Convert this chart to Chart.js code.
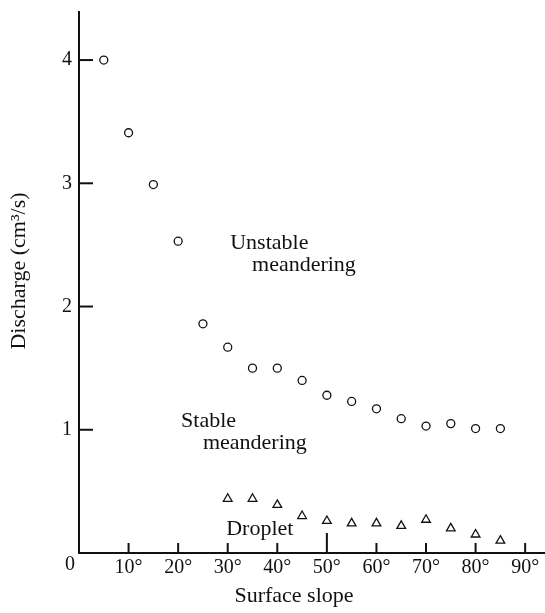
<!DOCTYPE html>
<html>
<head>
<meta charset="utf-8">
<script src="https://cdn.jsdelivr.net/npm/chart.js@4/dist/chart.umd.min.js"></script>
<style>
  body { margin: 0; background: #fff; }
  canvas { display: block; }
</style>
</head>
<body>
<canvas id="slopeChart" width="545" height="613"></canvas>
<script>
// surface slope (degrees) and discharge (cm3/s)
const meanderSlope = [5, 10, 15, 20, 25, 30, 35, 40, 45, 50, 55, 60, 65, 70, 75, 80, 85];
const meanderDischarge = [4.00, 3.41, 2.99, 2.53, 1.86, 1.67, 1.50, 1.50, 1.40, 1.28, 1.23, 1.17, 1.09, 1.03, 1.05, 1.01, 1.01];
const dropletSlope = [30, 35, 40, 45, 50, 55, 60, 65, 70, 75, 80, 85];
const dropletDischarge = [0.44, 0.44, 0.39, 0.30, 0.26, 0.24, 0.24, 0.22, 0.27, 0.20, 0.15, 0.10];

const xTicks = [10, 20, 30, 40, 50, 60, 70, 80, 90];
const yTicks = [1, 2, 3, 4];

// region labels, anchored in data units (left edge, baseline)
const regionText = ["Unstable", "meandering", "Stable", "meandering", "Droplet"];
const regionX = [30.5, 34.9, 20.6, 25.0, 29.7];
const regionY = [2.47, 2.29, 1.02, 0.84, 0.15];

const serif = "'Liberation Serif', 'DejaVu Serif', serif";
const ink = "#111";

function toPoints(xs, ys) {
  return xs.map((x, i) => ({ x: x, y: ys[i] }));
}

// ticks point inward on this figure, so draw them ourselves
const inwardTicks = {
  id: "inwardTicks",
  afterDraw(chart) {
    const ctx = chart.ctx;
    const xs = chart.scales.x;
    const ys = chart.scales.y;
    ctx.save();
    ctx.strokeStyle = ink;
    ctx.lineWidth = 2;
    xTicks.forEach(v => {
      const px = xs.getPixelForValue(v);
      const len = v === 50 ? 20 : 10;
      ctx.beginPath();
      ctx.moveTo(px, ys.bottom);
      ctx.lineTo(px, ys.bottom - len);
      ctx.stroke();
    });
    yTicks.forEach(v => {
      const py = ys.getPixelForValue(v);
      ctx.beginPath();
      ctx.moveTo(xs.left, py);
      ctx.lineTo(xs.left + 14, py);
      ctx.stroke();
    });

    ctx.fillStyle = ink;
    ctx.font = "22px " + serif;
    ctx.textAlign = "left";
    ctx.textBaseline = "alphabetic";
    regionText.forEach((t, i) => {
      ctx.fillText(t, xs.getPixelForValue(regionX[i]), ys.getPixelForValue(regionY[i]));
    });

    // corner zero
    ctx.font = "20px " + serif;
    ctx.textAlign = "center";
    ctx.textBaseline = "middle";
    ctx.fillText("0", xs.left - 9, ys.bottom + 12);

    // axis titles
    ctx.font = "22px " + serif;
    ctx.textBaseline = "alphabetic";
    ctx.fillText("Surface slope", 294, 602);
    ctx.translate(25, 271);
    ctx.rotate(-Math.PI / 2);
    ctx.fillText("Discharge (cm\u00B3/s)", 0, 0);
    ctx.restore();
  }
};

const ctx = document.getElementById("slopeChart").getContext("2d");
new Chart(ctx, {
  type: "scatter",
  data: {
    datasets: [
      {
        label: "Meandering",
        data: toPoints(meanderSlope, meanderDischarge),
        pointStyle: "circle",
        pointRadius: 4,
        borderColor: ink,
        backgroundColor: "rgba(0,0,0,0)",
        borderWidth: 1.3
      },
      {
        label: "Droplet",
        data: toPoints(dropletSlope, dropletDischarge),
        pointStyle: "triangle",
        pointRadius: 5,
        borderColor: ink,
        backgroundColor: "rgba(0,0,0,0)",
        borderWidth: 1.3
      }
    ]
  },
  options: {
    responsive: false,
    animation: false,
    devicePixelRatio: 1,
    layout: { autoPadding: false, padding: { top: 12, right: 0, bottom: 0, left: 0 } },
    plugins: {
      legend: { display: false },
      tooltip: { enabled: false }
    },
    scales: {
      x: {
        type: "linear",
        min: 0,
        max: 94,
        afterFit: s => { s.height = 60; s.paddingLeft = 0; s.paddingRight = 0; },
        afterBuildTicks: s => { s.ticks = xTicks.map(v => ({ value: v })); },
        grid: { display: false, drawTicks: false },
        border: { display: true, color: ink, width: 2 },
        ticks: {
          color: ink,
          font: { family: serif, size: 20, lineHeight: 1.2 },
          padding: 3,
          maxRotation: 0,
          callback: v => v + "\u00B0"
        }
      },
      y: {
        type: "linear",
        min: 0,
        max: 4.39,
        afterFit: s => { s.width = 79; s.paddingTop = 0; s.paddingBottom = 0; },
        afterBuildTicks: s => { s.ticks = yTicks.map(v => ({ value: v })); },
        grid: { display: false, drawTicks: false },
        border: { display: true, color: ink, width: 2 },
        ticks: {
          color: ink,
          font: { family: serif, size: 20 },
          padding: 7,
          callback: v => String(v)
        }
      }
    }
  },
  plugins: [inwardTicks]
});
</script>
</body>
</html>
